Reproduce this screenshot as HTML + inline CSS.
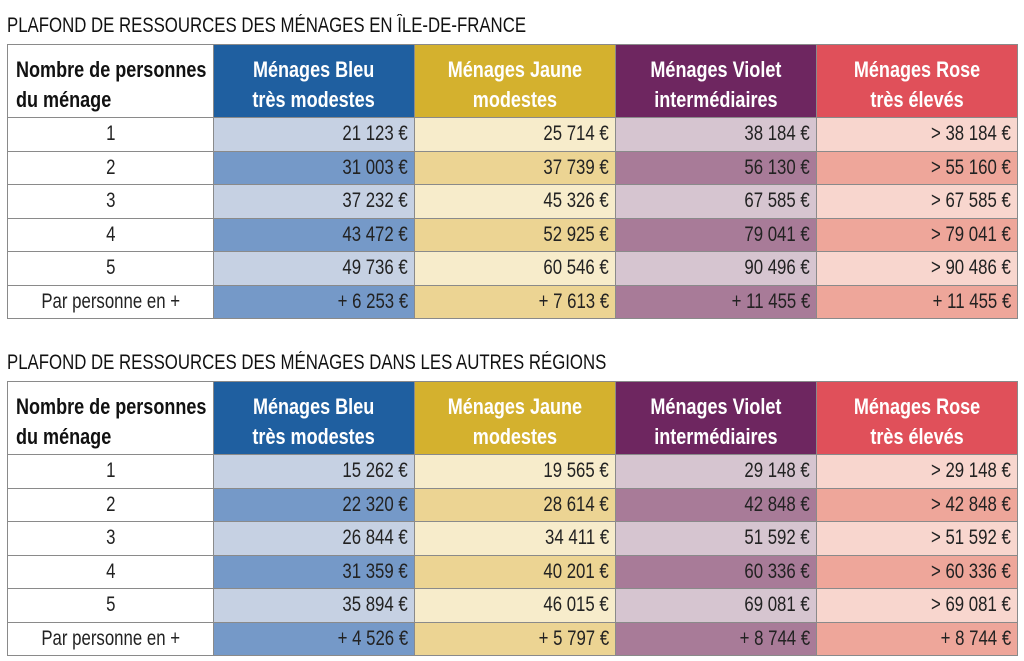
<!DOCTYPE html>
<html><head><meta charset="utf-8"><style>
body{margin:0;width:1024px;height:661px;background:#fff;position:relative;overflow:hidden;font-family:"Liberation Sans",sans-serif;}
.t{position:absolute;left:7px;font-size:21px;color:#111;white-space:nowrap;transform:scaleX(0.8);transform-origin:left top;}
table{position:absolute;left:7px;border-collapse:collapse;table-layout:fixed;width:1010px;}
td{border:1px solid #8a8a8a;padding:0 6px;font-size:21px;color:#222;text-align:right;height:33.5px;box-sizing:border-box;white-space:nowrap;overflow:hidden;}
td span{display:inline-block;transform:scaleX(0.8);transform-origin:right center;}
td.n span{transform-origin:center center;}
td.n{text-align:center;}
tr.h td{height:73px;font-weight:bold;font-size:22px;text-align:center;color:#fff;line-height:30px;padding-top:8px;}
tr.h td span{transform-origin:center center;transform:scaleX(0.82);}
tr.h td.f{color:#111;text-align:left;padding-left:8px;background:#fff;}
tr.h td.f span{transform-origin:left center;}
.hb{background:#1f5fa0}.hy{background:#d4b12e}.hv{background:#6e2660}.hr{background:#e0505a}
.b1{background:#c6d1e3}.b2{background:#7599c8}
.y1{background:#f7eccb}.y2{background:#ecd493}
.v1{background:#d6c5d0}.v2{background:#a87b98}
.r1{background:#f8d6ce}.r2{background:#eea69a}
</style></head><body>
<div class="t" style="top:14px">PLAFOND DE RESSOURCES DES MÉNAGES EN ÎLE-DE-FRANCE</div>
<table style="top:44px">
<colgroup><col style="width:206px"><col style="width:201px"><col style="width:201px"><col style="width:201px"><col style="width:201px"></colgroup>
<tr class="h"><td class="f"><span>Nombre de personnes<br>du ménage</span></td><td class="hb"><span>Ménages Bleu<br>très modestes</span></td><td class="hy"><span>Ménages Jaune<br>modestes</span></td><td class="hv"><span>Ménages Violet<br>intermédiaires</span></td><td class="hr"><span>Ménages Rose<br>très élevés</span></td></tr>
<tr><td class="n"><span>1</span></td><td class="b1"><span>21 123 €</span></td><td class="y1"><span>25 714 €</span></td><td class="v1"><span>38 184 €</span></td><td class="r1"><span>&gt; 38 184 €</span></td></tr>
<tr><td class="n"><span>2</span></td><td class="b2"><span>31 003 €</span></td><td class="y2"><span>37 739 €</span></td><td class="v2"><span>56 130 €</span></td><td class="r2"><span>&gt; 55 160 €</span></td></tr>
<tr><td class="n"><span>3</span></td><td class="b1"><span>37 232 €</span></td><td class="y1"><span>45 326 €</span></td><td class="v1"><span>67 585 €</span></td><td class="r1"><span>&gt; 67 585 €</span></td></tr>
<tr><td class="n"><span>4</span></td><td class="b2"><span>43 472 €</span></td><td class="y2"><span>52 925 €</span></td><td class="v2"><span>79 041 €</span></td><td class="r2"><span>&gt; 79 041 €</span></td></tr>
<tr><td class="n"><span>5</span></td><td class="b1"><span>49 736 €</span></td><td class="y1"><span>60 546 €</span></td><td class="v1"><span>90 496 €</span></td><td class="r1"><span>&gt; 90 486 €</span></td></tr>
<tr><td class="n"><span>Par personne en +</span></td><td class="b2"><span>+ 6 253 €</span></td><td class="y2"><span>+ 7 613 €</span></td><td class="v2"><span>+ 11 455 €</span></td><td class="r2"><span>+ 11 455 €</span></td></tr>
</table>
<div class="t" style="top:351px">PLAFOND DE RESSOURCES DES MÉNAGES DANS LES AUTRES RÉGIONS</div>
<table style="top:381px">
<colgroup><col style="width:206px"><col style="width:201px"><col style="width:201px"><col style="width:201px"><col style="width:201px"></colgroup>
<tr class="h"><td class="f"><span>Nombre de personnes<br>du ménage</span></td><td class="hb"><span>Ménages Bleu<br>très modestes</span></td><td class="hy"><span>Ménages Jaune<br>modestes</span></td><td class="hv"><span>Ménages Violet<br>intermédiaires</span></td><td class="hr"><span>Ménages Rose<br>très élevés</span></td></tr>
<tr><td class="n"><span>1</span></td><td class="b1"><span>15 262 €</span></td><td class="y1"><span>19 565 €</span></td><td class="v1"><span>29 148 €</span></td><td class="r1"><span>&gt; 29 148 €</span></td></tr>
<tr><td class="n"><span>2</span></td><td class="b2"><span>22 320 €</span></td><td class="y2"><span>28 614 €</span></td><td class="v2"><span>42 848 €</span></td><td class="r2"><span>&gt; 42 848 €</span></td></tr>
<tr><td class="n"><span>3</span></td><td class="b1"><span>26 844 €</span></td><td class="y1"><span>34 411 €</span></td><td class="v1"><span>51 592 €</span></td><td class="r1"><span>&gt; 51 592 €</span></td></tr>
<tr><td class="n"><span>4</span></td><td class="b2"><span>31 359 €</span></td><td class="y2"><span>40 201 €</span></td><td class="v2"><span>60 336 €</span></td><td class="r2"><span>&gt; 60 336 €</span></td></tr>
<tr><td class="n"><span>5</span></td><td class="b1"><span>35 894 €</span></td><td class="y1"><span>46 015 €</span></td><td class="v1"><span>69 081 €</span></td><td class="r1"><span>&gt; 69 081 €</span></td></tr>
<tr><td class="n"><span>Par personne en +</span></td><td class="b2"><span>+ 4 526 €</span></td><td class="y2"><span>+ 5 797 €</span></td><td class="v2"><span>+ 8 744 €</span></td><td class="r2"><span>+ 8 744 €</span></td></tr>
</table>
</body></html>
